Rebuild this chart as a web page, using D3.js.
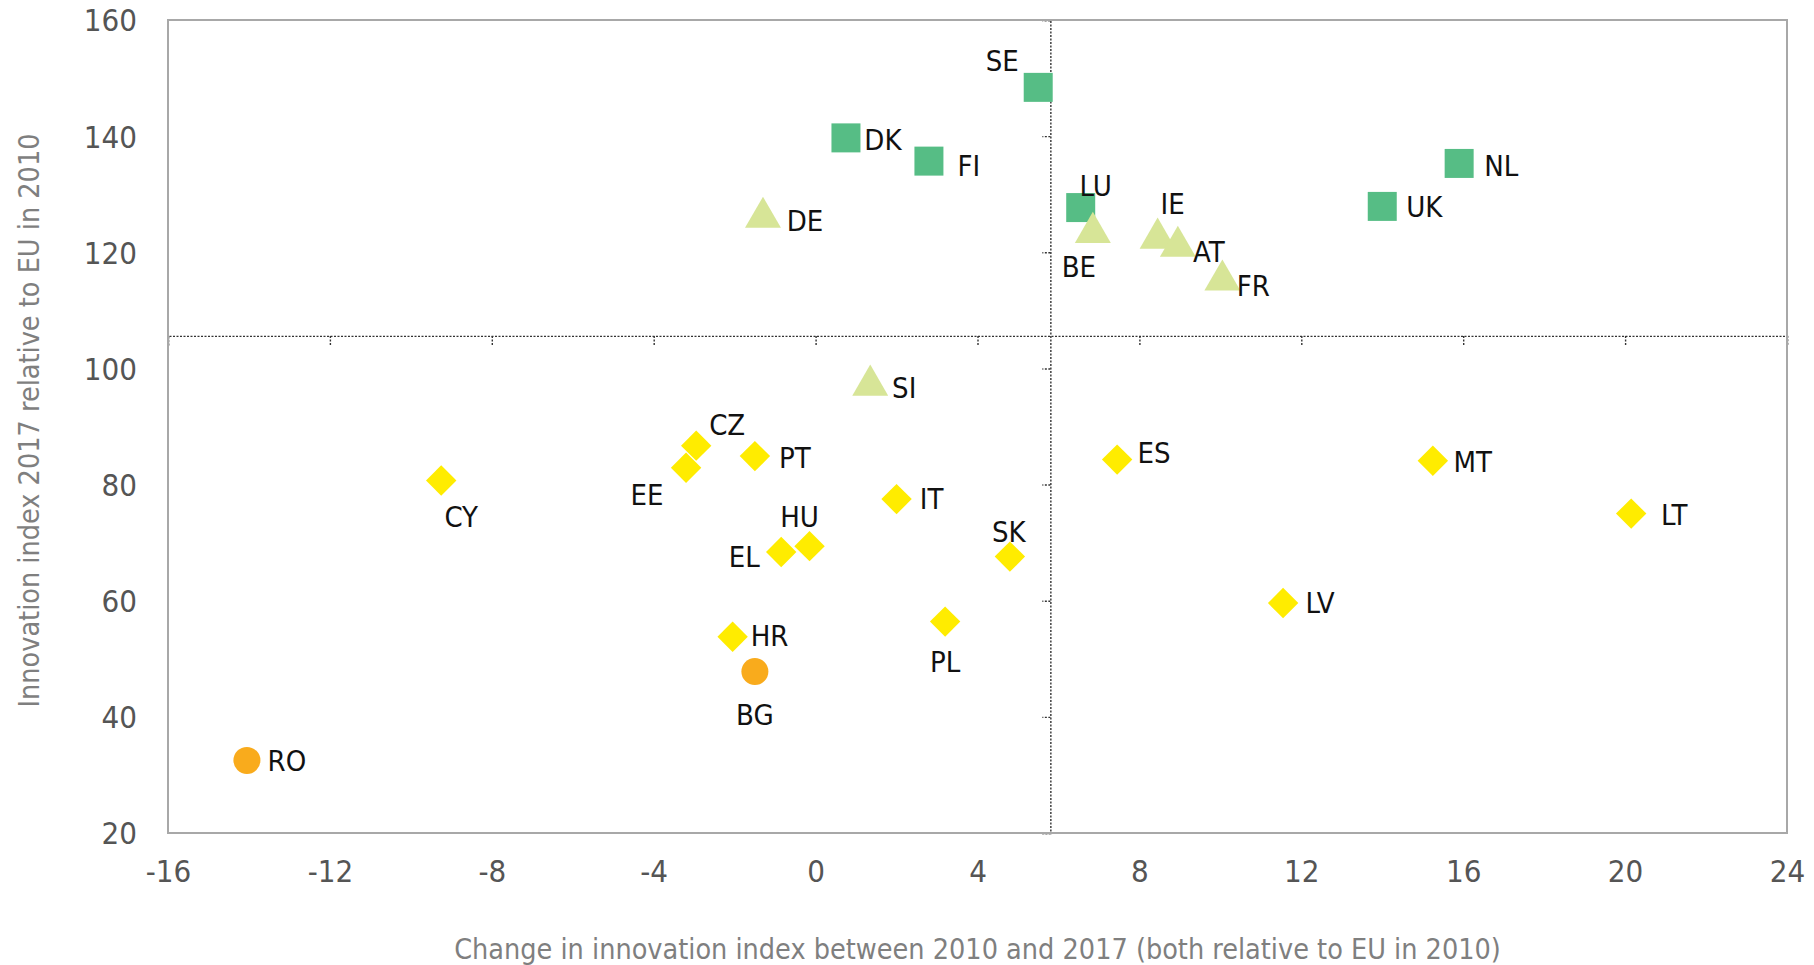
<!doctype html>
<html>
<head>
<meta charset="utf-8">
<style type="text/css">
html,body{
    margin: 0;
    background: #ffffff;
    overflow: hidden;
}
text {
    font-family: "DejaVu Sans Condensed", "Liberation Sans Narrow", sans-serif;
}
</style>
<script src="https://cdn.jsdelivr.net/npm/d3@7"></script>
</head>
<body>
<script type="text/javascript">
// country codes, per group
var countries = ["SE","DK","FI","LU","NL","UK",
                 "DE","BE","IE","AT","FR","SI",
                 "CY","EE","CZ","PT","IT","HU","EL","HR","PL","SK","ES","LV","MT","LT",
                 "BG","RO"];
// change 2010-2017 (x)
var change = [5.5, 0.75, 2.8, 6.55, 15.9, 14.0,
              -1.3, 6.85, 8.45, 8.95, 10.05, 1.35,
              -9.25, -3.2, -2.95, -1.5, 2.0, -0.15, -0.85, -2.05, 3.2, 4.8, 7.45, 11.55, 15.25, 20.15,
              -1.5, -14.05];
// index 2017 relative to EU 2010 (y)
var index2017 = [148.4, 139.7, 135.7, 127.7, 135.3, 127.9,
                 126.0, 123.4, 122.4, 121.0, 115.2, 97.1,
                 80.7, 82.9, 86.7, 84.9, 77.5, 69.4, 68.4, 53.8, 56.4, 67.6, 84.3, 59.6, 84.1, 75.0,
                 47.8, 32.5];
// performance group: 0 leader, 1 strong, 2 moderate, 3 modest
var group = [0,0,0,0,0,0,
             1,1,1,1,1,1,
             2,2,2,2,2,2,2,2,2,2,2,2,2,2,
             3,3];
var xTicks = [-16,-12,-8,-4,0,4,8,12,16,20,24];
var yTicks = [20,40,60,80,100,120,140,160];
var euX = 5.8, euY = 105.6;

// layout: label offsets from the marker, in px
var labelOffset = {
    SE:[-36,-27], DK:[37,2], FI:[40,5], LU:[15,-22], NL:[42,2], UK:[42,0],
    DE:[42,3], BE:[-14,34], IE:[15,-34], AT:[31,5], FR:[31,6], SI:[34,3],
    CY:[20,36], EE:[-39,27], CZ:[31,-21], PT:[40,2], IT:[35,0], HU:[-10,-29],
    EL:[-37,5], HR:[37,-1], PL:[0,40], SK:[-1,-25], ES:[37,-7], LV:[37,0],
    MT:[40,1], LT:[43,1], BG:[0,43], RO:[40,0]
};
var colors = ["#56bd85", "#d7e597", "#ffec00", "#f9ab1c"];

(function(){
    var W = 1814, H = 965,
        m = {top: 20, right: 27, bottom: 132, left: 168},
        w = W - m.left - m.right,
        h = H - m.top - m.bottom;

    var svg = d3.select("body").append("svg")
        .attr("width", W)
        .attr("height", H);
    var g = svg.append("g").attr("transform", "translate(" + m.left + "," + m.top + ")");

    var x = d3.scaleLinear().domain([-16, 24]).range([0, w]);
    var y = d3.scaleLinear().domain([20, 160]).range([h, 0]);
    var plain = function(d){ return String(d); };

    // tick labels
    var xa = g.append("g").attr("transform", "translate(0," + h + ")")
        .call(d3.axisBottom(x).tickValues(xTicks).tickSize(0).tickPadding(27).tickFormat(plain));
    var ya = g.append("g")
        .call(d3.axisLeft(y).tickValues(yTicks).tickSize(0).tickPadding(31).tickFormat(plain));
    [xa, ya].forEach(function(a){
        a.select(".domain").remove();
        a.selectAll("text").attr("font-size", 31).attr("fill", "#555")
            .style("font-family", "\"DejaVu Sans Condensed\", sans-serif");
    });
    ya.selectAll("text").attr("dy", "0.35em");

    // quadrant lines (EU reference) with small ticks
    var qx = g.append("g").attr("transform", "translate(0," + y(euY) + ")")
        .call(d3.axisBottom(x).tickValues(xTicks).tickSize(10).tickFormat(""));
    var qy = g.append("g").attr("transform", "translate(" + x(euX) + ",0)")
        .call(d3.axisLeft(y).tickValues(yTicks).tickSize(8).tickFormat(""));
    [qx, qy].forEach(function(a){
        a.selectAll("path, line")
            .attr("stroke", "#333")
            .attr("stroke-width", 1.4)
            .attr("stroke-dasharray", "2,1.5");
    });

    // frame
    g.append("rect")
        .attr("width", w).attr("height", h)
        .attr("fill", "none")
        .attr("stroke", "#a8a8a8")
        .attr("stroke-width", 2);

    var data = countries.map(function(c, i){
        return {name: c, x: change[i], y: index2017[i], g: group[i]};
    });

    var shapes = [
        d3.symbol().type(d3.symbolSquare).size(29 * 29),
        d3.symbol().type(d3.symbolTriangle).size(560),
        d3.symbol().type(d3.symbolSquare).size(21.5 * 21.5),
        d3.symbol().type(d3.symbolCircle).size(Math.PI * 13.5 * 13.5)
    ];

    g.selectAll("path.mark")
        .data(data)
        .enter().append("path")
        .attr("class", "mark")
        .attr("transform", function(d){
            var s = "translate(" + x(d.x) + "," + y(d.y) + ")";
            if (d.g == 2) s += " rotate(45)";
            return s;
        })
        .attr("d", function(d){ return shapes[d.g](); })
        .attr("fill", function(d){ return colors[d.g]; });

    g.selectAll("text.lab")
        .data(data)
        .enter().append("text")
        .attr("class", "lab")
        .attr("x", function(d){ return x(d.x) + labelOffset[d.name][0]; })
        .attr("y", function(d){ return y(d.y) + labelOffset[d.name][1]; })
        .attr("text-anchor", "middle")
        .attr("dy", "0.35em")
        .attr("font-size", 29)
        .attr("fill", "#111")
        .text(function(d){ return d.name; });

    // axis titles
    svg.append("text")
        .attr("x", m.left + w / 2)
        .attr("y", 959)
        .attr("text-anchor", "middle")
        .attr("font-size", 28.5)
        .attr("fill", "#7f7f7f")
        .text("Change in innovation index between 2010 and 2017 (both relative to EU in 2010)");
    svg.append("text")
        .attr("transform", "translate(39," + (m.top + h / 2 - 6) + ") rotate(-90)")
        .attr("text-anchor", "middle")
        .attr("font-size", 28.5)
        .attr("fill", "#7f7f7f")
        .text("Innovation index 2017 relative to EU in 2010");
})();
</script>
</body>
</html>
